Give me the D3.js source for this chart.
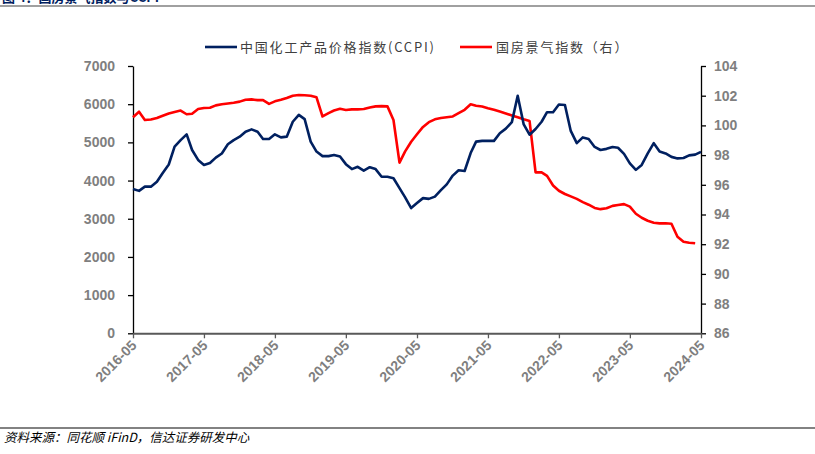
<!DOCTYPE html>
<html><head><meta charset="utf-8">
<script src="https://cdn.jsdelivr.net/npm/d3@7"></script>
<style>body{margin:0;background:#fff}svg{display:block}</style>
</head><body>
<svg id="c" width="815" height="454"></svg>
<script>
const startMonth = "2016-05";
const xTickLabels = ["2016-05","2017-05","2018-05","2019-05","2020-05","2021-05","2022-05","2023-05","2024-05"];
const leftTicks = [0,1000,2000,3000,4000,5000,6000,7000];
const rightTicks = [86,88,90,92,94,96,98,100,102,104];
const seriesNames = ["中国化工产品价格指数(CCPI)", "国房景气指数（右）"];
const ccpi = [3780,3730,3840,3840,3970,4200,4420,4890,5060,5210,4800,4540,
  4410,4460,4600,4710,4950,5060,5150,5280,5340,5280,5090,5090,
  5210,5130,5150,5540,5720,5610,5020,4760,4640,4640,4670,4630,
  4430,4300,4360,4260,4350,4300,4100,4100,4060,3800,3560,3280,
  3410,3540,3520,3580,3750,3900,4130,4270,4250,4720,5020,5040,
  5040,5040,5240,5360,5530,6220,5470,5200,5350,5540,5790,5790,
  5990,5980,5300,4980,5130,5090,4880,4800,4830,4880,4860,4700,
  4450,4280,4410,4710,4980,4760,4710,4620,4580,4590,4660,4680,4750];
const housing = [100.55,100.92,100.36,100.40,100.50,100.65,100.80,100.90,101.0,100.75,100.78,101.1,
  101.17,101.19,101.35,101.42,101.47,101.52,101.60,101.73,101.75,101.70,101.70,101.45,
  101.62,101.72,101.85,102.0,102.05,102.03,102.0,101.89,100.6,100.83,101.0,101.12,
  101.04,101.08,101.08,101.1,101.2,101.28,101.3,101.28,100.36,97.49,98.25,98.9,
  99.4,99.9,100.22,100.41,100.5,100.55,100.6,100.82,101.05,101.42,101.32,101.27,
  101.15,101.05,100.93,100.8,100.67,100.55,100.41,100.3,96.84,96.84,96.6,95.95,
  95.6,95.38,95.22,95.05,94.83,94.66,94.44,94.36,94.42,94.58,94.64,94.7,
  94.53,94.05,93.78,93.58,93.45,93.4,93.41,93.38,92.5,92.17,92.1,92.06];

const svg = d3.select("#c");
const parse = d3.timeParse("%Y-%m");
const t0 = parse(startMonth);
const dates = ccpi.map((d,i)=>d3.timeMonth.offset(t0,i));
const L=133, R=701, T=66, B=333.3;
const x = d3.scaleTime().domain([t0, dates[dates.length-1]]).range([L,R]);
const yL = d3.scaleLinear().domain([0,7000]).range([B,T]);
const yR = d3.scaleLinear().domain([86,104]).range([B,T]);

// header (cut off at top, as in the reference)
svg.append("text").attr("x",2).attr("y",1.5).attr("font-family","'Noto Sans CJK SC',sans-serif")
  .attr("font-size",13).attr("font-weight","bold").attr("fill","#002060").text("图 4：国房景气指数与CCPI");
svg.append("line").attr("x1",0).attr("x2",815).attr("y1",6).attr("y2",6).attr("stroke","#808080").attr("stroke-width",1.5);

const labelFont = "'Liberation Sans',Arial,sans-serif";
// left axis
const gl = svg.append("g").attr("transform",`translate(${L},0)`)
  .call(d3.axisLeft(yL).tickValues(leftTicks).tickSize(5).tickSizeOuter(0).tickFormat(d3.format("d")));
gl.select(".domain").attr("stroke","#000").attr("stroke-width",1.3);
gl.selectAll(".tick line").attr("stroke","#000").attr("stroke-width",1.3);
gl.selectAll(".tick text").attr("x",-18).attr("font-family",labelFont).attr("font-size",14).attr("font-weight","bold").attr("fill","#7f7f7f");

// right axis
const gr = svg.append("g").attr("transform",`translate(${R},0)`)
  .call(d3.axisRight(yR).tickValues(rightTicks).tickSize(5).tickSizeOuter(0));
gr.select(".domain").attr("stroke","#000").attr("stroke-width",1.3);
gr.selectAll(".tick line").attr("stroke","#000").attr("stroke-width",1.3);
gr.selectAll(".tick text").attr("x",13).attr("font-family",labelFont).attr("font-size",14).attr("font-weight","bold").attr("fill","#7f7f7f");

// bottom axis
const gb = svg.append("g").attr("transform",`translate(0,${B})`)
  .call(d3.axisBottom(x).tickValues(xTickLabels.map(parse)).tickSize(5).tickSizeOuter(0).tickFormat(d3.timeFormat("%Y-%m")));
gb.select(".domain").attr("stroke","#595959").attr("stroke-width",2);
gb.selectAll(".tick line").attr("stroke","#595959").attr("stroke-width",1.3);
gb.selectAll(".tick text").attr("font-family",labelFont).attr("font-size",14).attr("font-weight","bold").attr("fill","#7f7f7f")
  .attr("text-anchor","end").attr("dy",null).attr("y",0)
  .attr("transform","translate(4,13) rotate(-45)");

// lines
const lineL = d3.line().x((d,i)=>x(dates[i])).y(d=>yL(d));
const lineR = d3.line().x((d,i)=>x(dates[i])).y(d=>yR(d));
svg.append("path").datum(housing).attr("d",lineR).attr("fill","none").attr("stroke","#ff0000").attr("stroke-width",2.6).attr("stroke-linejoin","round");
svg.append("path").datum(ccpi).attr("d",lineL).attr("fill","none").attr("stroke","#002060").attr("stroke-width",2.6).attr("stroke-linejoin","round");

// legend
const legendItems = [{name:seriesNames[0], color:"#002060", x:205, tx:240},{name:seriesNames[1], color:"#ff0000", x:460, tx:496}];
legendItems.forEach(it=>{
  svg.append("line").attr("x1",it.x).attr("x2",it.x+32).attr("y1",47).attr("y2",47).attr("stroke",it.color).attr("stroke-width",2.6);
  svg.append("text").attr("x",it.tx).attr("y",52).attr("font-family","'Noto Sans CJK SC',sans-serif").attr("font-size",13)
    .attr("letter-spacing",1.8).attr("fill","#404040").text(it.name);
});

// footer
svg.append("line").attr("x1",0).attr("x2",815).attr("y1",428).attr("y2",428).attr("stroke","#595959").attr("stroke-width",1.5);
svg.append("text").attr("x",4).attr("y",442).attr("font-family","'Noto Sans CJK SC',sans-serif").attr("font-size",12.5)
  .attr("font-style","italic").attr("fill","#000").text("资料来源：同花顺 iFinD，信达证券研发中心");
</script>
</body></html>
